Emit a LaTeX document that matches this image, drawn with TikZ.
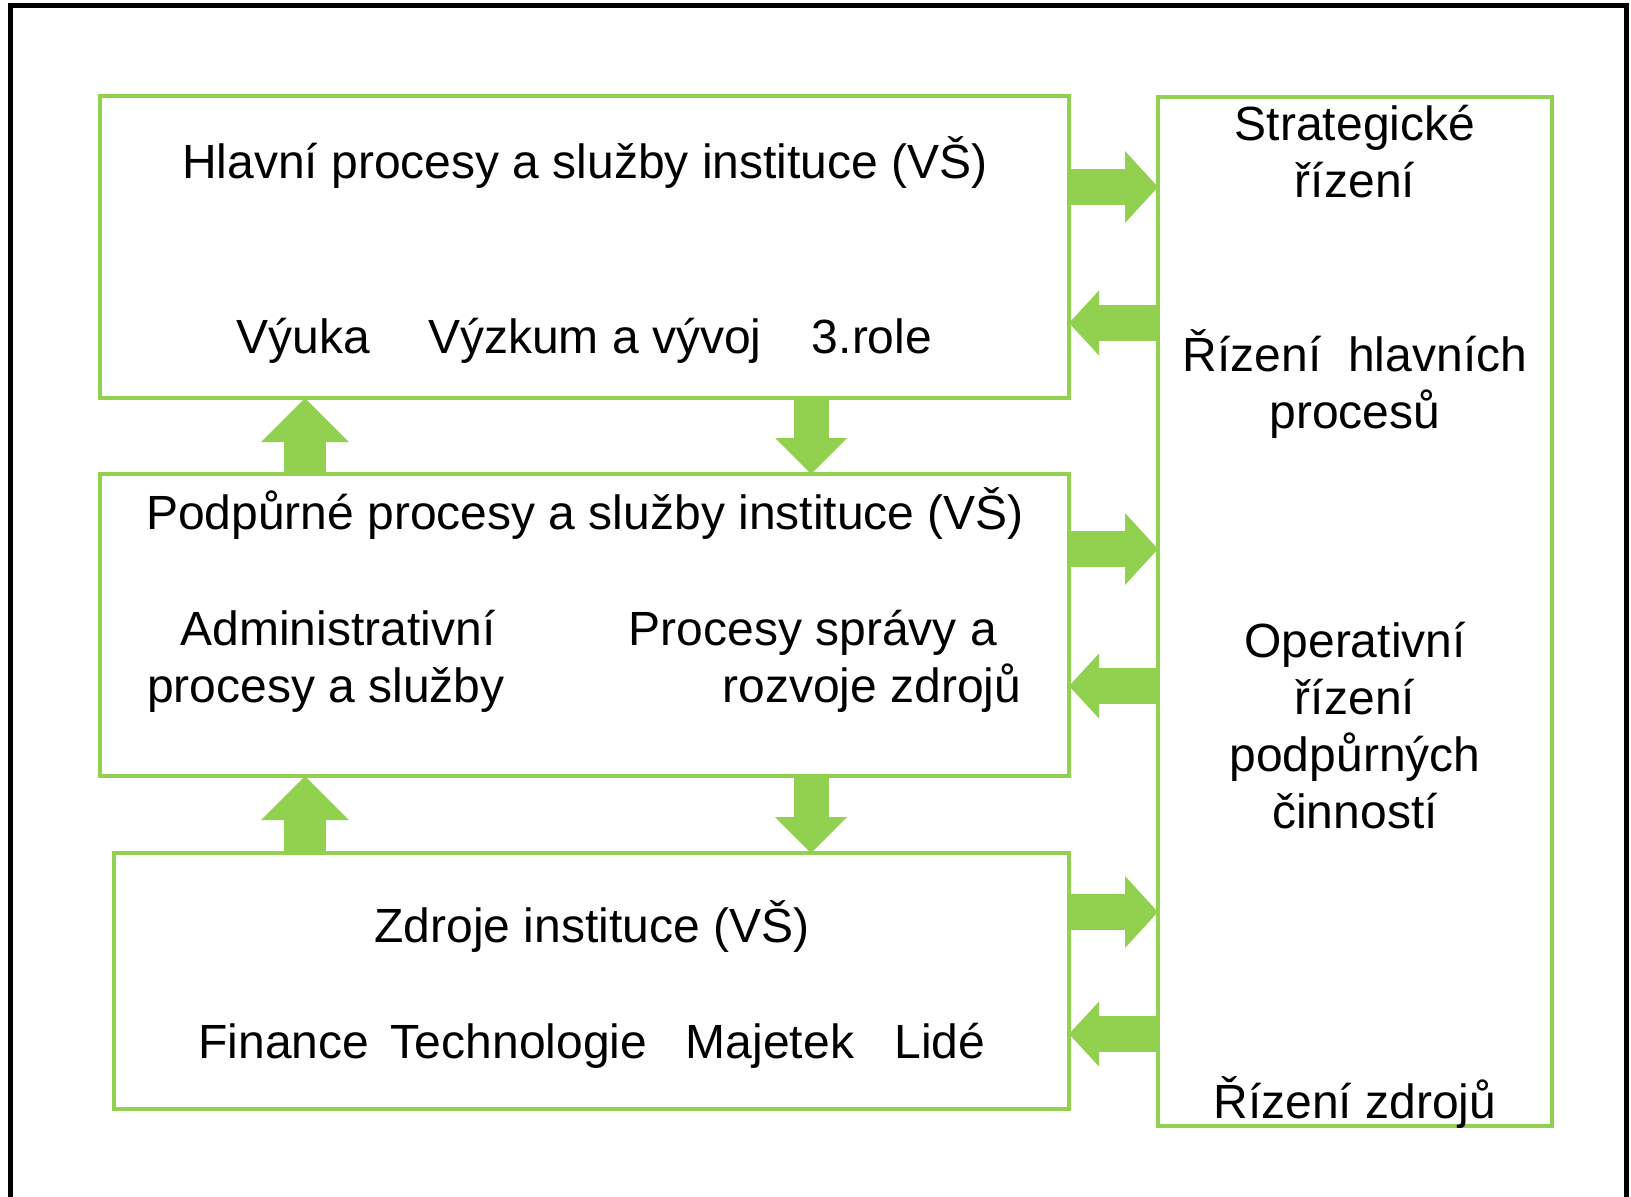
\documentclass[tikz,border=0pt]{standalone}
\usepackage{fontspec}
\setmainfont{Liberation Sans}
\usepackage{xcolor}
\usetikzlibrary{arrows.meta}
\definecolor{lgreen}{RGB}{146,208,80}
\tikzset{
  box/.style={draw=lgreen,line width=4.5pt,outer sep=0pt,inner sep=0pt},
  txt/.style={anchor=base,inner sep=0pt,font=\fontsize{48}{57}\selectfont},
  toright/.style={lgreen,line width=36pt,-{Triangle[width=72pt,length=33pt,line width=0pt]}},
  toleft/.style={lgreen,line width=36pt,-{Triangle[width=65pt,length=30pt,line width=0pt]}},
  goup/.style={lgreen,line width=42pt,-{Triangle[width=88pt,length=44pt,line width=0pt]}},
  godown/.style={lgreen,line width=35pt,-{Triangle[width=72pt,length=36pt,line width=0pt]}}
}
\begin{document}
\begin{tikzpicture}[x=1pt,y=-1pt]
\useasboundingbox (0,0) rectangle (1631,1197);
% frame
\draw[line width=5pt] (10.5,1197) -- (10.5,5.5) -- (1626,5.5) -- (1626,1197);
% boxes
\node (hlavni) at (584.5,247) [box,minimum width=969pt,minimum height=302pt] {};
\node (podpurne) at (584.5,625) [box,minimum width=969pt,minimum height=302pt] {};
\node (zdroje) at (591.5,981) [box,minimum width=955pt,minimum height=256pt] {};
\node (rizeni) at (1355,611.5) [box,minimum width=394pt,minimum height=1029pt] {};
% texts
\node (h1) at (585,178) [txt] {Hlavní procesy a služby instituce (VŠ)};
\node (h2) at (303,353) [txt] {Výuka};
\node (h3) at (595,353) [txt] {Výzkum a vývoj};
\node (h4) at (872,353) [txt] {3.role};
\node (p1) at (585,529) [txt] {Podpůrné procesy a služby instituce (VŠ)};
\node (p2) at (338,645) [txt] {Administrativní};
\node (p3) at (326,702) [txt] {procesy a služby};
\node (p4) at (813,645) [txt] {Procesy správy a};
\node (p5) at (872,702) [txt] {rozvoje zdrojů};
\node (z1) at (592,942) [txt] {Zdroje instituce (VŠ)};
\node (z2) at (284,1058) [txt] {Finance};
\node (z3) at (519,1058) [txt] {Technologie};
\node (z4) at (770,1058) [txt] {Majetek};
\node (z5) at (940,1058) [txt] {Lidé};
\node (r1) at (1355,140) [txt] {Strategické};
\node (r2) at (1355,197) [txt] {řízení};
\node (r3) at (1355,371) [txt] {Řízení\ \ hlavních};
\node (r4) at (1355,428) [txt] {procesů};
\node (r5) at (1355,657) [txt] {Operativní};
\node (r6) at (1355,714) [txt] {řízení};
\node (r7) at (1355,771) [txt] {podpůrných};
\node (r8) at (1355,828) [txt] {činností};
\node (r9) at (1355,1118) [txt] {Řízení zdrojů};
% arrows between the boxes
\draw[goup] (podpurne.north -| 305,0) -- (hlavni.south -| 305,0);
\draw[godown] (hlavni.south -| 811,0) -- (podpurne.north -| 811,0);
\draw[goup] (zdroje.north -| 305,0) -- (podpurne.south -| 305,0);
\draw[godown] (podpurne.south -| 811,0) -- (zdroje.north -| 811,0);
\draw[toright] (hlavni.east |- 0,187) -- (rizeni.west |- 0,187);
\draw[toleft] (rizeni.west |- 0,323) -- (hlavni.east |- 0,323);
\draw[toright] (podpurne.east |- 0,549) -- (rizeni.west |- 0,549);
\draw[toleft] (rizeni.west |- 0,686) -- (podpurne.east |- 0,686);
\draw[toright] (zdroje.east |- 0,912) -- (rizeni.west |- 0,912);
\draw[toleft] (rizeni.west |- 0,1034) -- (zdroje.east |- 0,1034);
\end{tikzpicture}
\end{document}
